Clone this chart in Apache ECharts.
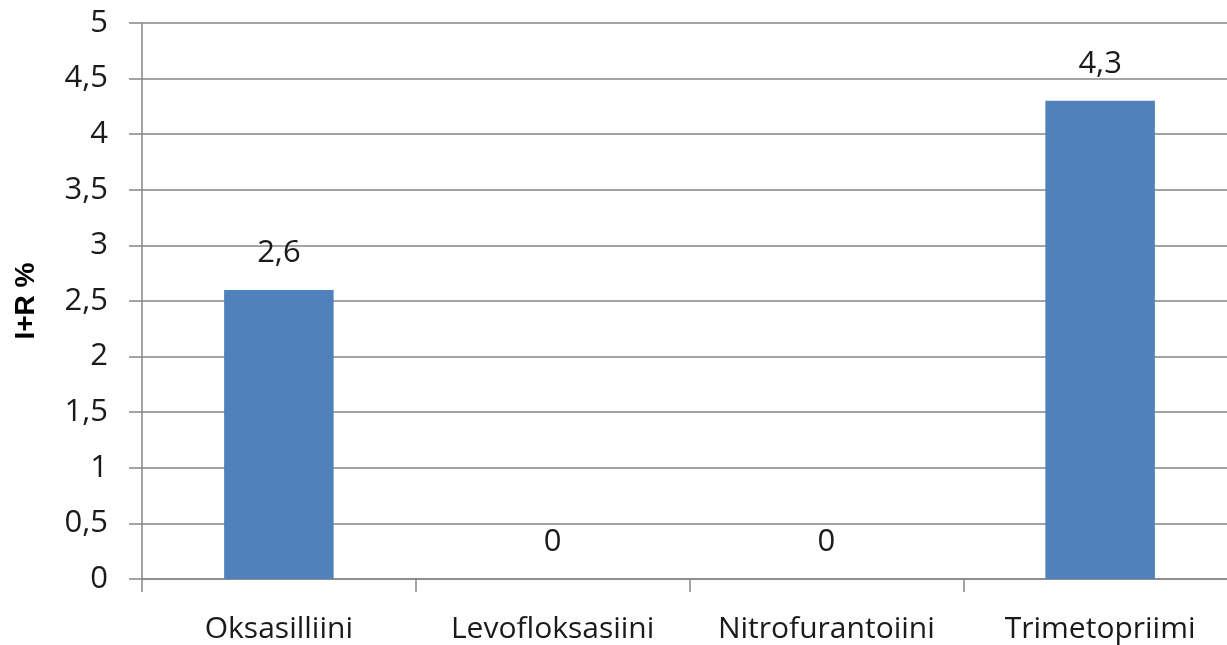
<!DOCTYPE html>
<html><head><meta charset="utf-8">
<script src="https://cdn.jsdelivr.net/npm/echarts@6/dist/echarts.min.js"></script>
<style>html,body{margin:0;padding:0;background:#fff}#c{width:1227px;height:645px}</style>
</head><body><div id="c"></div>
<script>
var categories = ['Oksasilliini', 'Levofloksasiini', 'Nitrofurantoiini', 'Trimetopriimi'];
var values = [2.6, 0, 0, 4.3];
var yAxisTitle = 'I+R %';
var fmt = function (v) { return String(v).replace('.', ','); };
var font = 'Open Sans';
var chart = echarts.init(document.getElementById('c'));
chart.setOption({
  animation: false,
  grid: { left: 142, right: -10, top: 23, bottom: 66, containLabel: false, outerBoundsMode: 'none' },
  xAxis: {
    type: 'category', data: categories,
    axisLine: { lineStyle: { color: '#868686', width: 1.5 } },
    axisTick: { show: true, length: 13, alignWithLabel: false, lineStyle: { color: '#868686', width: 1.5 } },
    axisLabel: { color: '#1a1a1a', fontSize: 30, fontFamily: font, margin: 35, interval: 0, hideOverlap: false }
  },
  yAxis: {
    type: 'value', min: 0, max: 5, interval: 0.5,
    name: yAxisTitle, nameLocation: 'middle', nameGap: 102, nameRotate: 90,
    nameTextStyle: { color: '#000', fontSize: 28, fontWeight: 'bold', fontFamily: 'Liberation Sans' },
    axisLine: { show: true, lineStyle: { color: '#868686', width: 1.5 } },
    axisTick: { show: true, length: 13, lineStyle: { color: '#868686', width: 1.5 } },
    splitLine: { lineStyle: { color: '#868686', width: 1.5 } },
    axisLabel: { color: '#1a1a1a', fontSize: 31, fontFamily: font, margin: 34, formatter: fmt }
  },
  series: [{
    type: 'bar', data: values, barWidth: '40%',
    itemStyle: { color: '#4F81BD' },
    label: { show: true, position: 'top', distance: 21, color: '#1a1a1a', fontSize: 31, fontFamily: font, formatter: function (p) { return fmt(p.value); } }
  }]
});
</script></body></html>
